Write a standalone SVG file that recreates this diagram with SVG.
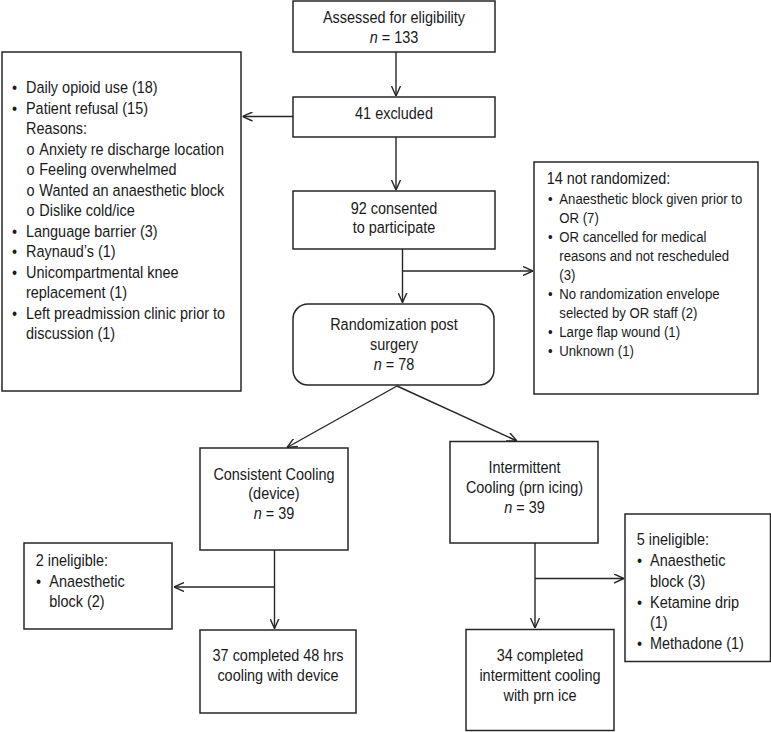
<svg xmlns="http://www.w3.org/2000/svg" width="771" height="732" viewBox="0 0 771 732">
<style>
.box{fill:#fff;stroke:#262626;stroke-width:1.5}
.ln{fill:none;stroke:#262626;stroke-width:1.4}
text{font-family:"Liberation Sans",Arial,sans-serif;font-size:17px;fill:#1a1a1a}
.c{text-anchor:middle}
.s{font-size:15.5px}
.i{font-style:italic}
</style>
<defs>
<marker id="arr" viewBox="0 0 10 10" refX="10" refY="5" markerWidth="10" markerHeight="10" markerUnits="userSpaceOnUse" orient="auto">
<path d="M0,0.5 L10,5 L0,9.5" fill="none" stroke="#262626" stroke-width="1.4"/>
</marker>
</defs>
<rect width="771" height="732" fill="#fff"/>
<g id="connectors">
<line class="ln" x1="396" y1="52" x2="396" y2="96" marker-end="url(#arr)"/>
<line class="ln" x1="293" y1="116.5" x2="242.5" y2="116.5" marker-end="url(#arr)"/>
<line class="ln" x1="396" y1="137" x2="396" y2="190" marker-end="url(#arr)"/>
<line class="ln" x1="402.5" y1="249" x2="402.5" y2="302.5" marker-end="url(#arr)"/>
<line class="ln" x1="402.5" y1="271" x2="533" y2="271" marker-end="url(#arr)"/>
<line class="ln" x1="397" y1="386" x2="287" y2="447.5" marker-end="url(#arr)"/>
<line class="ln" x1="397" y1="386" x2="517" y2="441" marker-end="url(#arr)"/>
<line class="ln" x1="274.5" y1="550" x2="274.5" y2="628.5" marker-end="url(#arr)"/>
<line class="ln" x1="274.5" y1="587" x2="174" y2="587" marker-end="url(#arr)"/>
<line class="ln" x1="535" y1="543" x2="535" y2="628" marker-end="url(#arr)"/>
<line class="ln" x1="535" y1="578.5" x2="624" y2="578.5" marker-end="url(#arr)"/>
</g>
<g id="assessed">
<rect class="box" x="293" y="1" width="202" height="51"/>
<g transform="scale(0.85 1)"><text class="c"><tspan x="463.53" y="23.5">Assessed for eligibility</tspan><tspan x="463.53" y="43"><tspan class="i">n</tspan> = 133</tspan></text></g>
</g>
<g id="excluded">
<rect class="box" x="293" y="97" width="202" height="40"/>
<g transform="scale(0.85 1)"><text class="c" x="463.53" y="119.5">41 excluded</text></g>
</g>
<g id="exclusion-reasons">
<rect class="box" x="2" y="52" width="239" height="339"/>
<g transform="scale(0.85 1)"><text>
<tspan x="14.12" y="93.5">•</tspan><tspan x="30.59" y="93.5">Daily opioid use (18)</tspan>
<tspan x="14.12" y="114">•</tspan><tspan x="30.59" y="114">Patient refusal (15)</tspan>
<tspan x="30.59" y="134.5">Reasons:</tspan>
<tspan x="31.18" y="155">o</tspan><tspan x="46.24" y="155">Anxiety re discharge location</tspan>
<tspan x="31.18" y="175.5">o</tspan><tspan x="46.24" y="175.5">Feeling overwhelmed</tspan>
<tspan x="31.18" y="196">o</tspan><tspan x="46.24" y="196">Wanted an anaesthetic block</tspan>
<tspan x="31.18" y="216.5">o</tspan><tspan x="46.24" y="216.5">Dislike cold/ice</tspan>
<tspan x="14.12" y="237">•</tspan><tspan x="30.59" y="237">Language barrier (3)</tspan>
<tspan x="14.12" y="257.5">•</tspan><tspan x="30.59" y="257.5">Raynaud’s (1)</tspan>
<tspan x="14.12" y="278">•</tspan><tspan x="30.59" y="278">Unicompartmental knee</tspan>
<tspan x="30.59" y="298.5">replacement (1)</tspan>
<tspan x="14.12" y="319">•</tspan><tspan x="30.59" y="319">Left preadmission clinic prior to</tspan>
<tspan x="30.59" y="339.5">discussion (1)</tspan>
</text></g>
</g>
<g id="consented">
<rect class="box" x="293" y="191" width="202" height="58"/>
<g transform="scale(0.85 1)"><text class="c"><tspan x="463.53" y="214">92 consented</tspan><tspan x="463.53" y="233">to participate</tspan></text></g>
</g>
<g id="not-randomized">
<rect class="box" x="534" y="162" width="224" height="232"/>
<g transform="scale(0.85 1)"><text x="643.18" y="184.5">14 not randomized:</text>
<text class="s">
<tspan x="644.7" y="203.6">•</tspan><tspan x="658" y="203.6">Anaesthetic block given prior to</tspan>
<tspan x="658" y="222.7">OR (7)</tspan>
<tspan x="644.7" y="241.8">•</tspan><tspan x="658" y="241.8">OR cancelled for medical</tspan>
<tspan x="658" y="260.9">reasons and not rescheduled</tspan>
<tspan x="658" y="280">(3)</tspan>
<tspan x="644.7" y="299.1">•</tspan><tspan x="658" y="299.1">No randomization envelope</tspan>
<tspan x="658" y="318.2">selected by OR staff (2)</tspan>
<tspan x="644.7" y="337.3">•</tspan><tspan x="658" y="337.3">Large flap wound (1)</tspan>
<tspan x="644.7" y="356.4">•</tspan><tspan x="658" y="356.4">Unknown (1)</tspan>
</text></g>
</g>
<g id="randomization">
<rect class="box" x="293" y="304" width="201" height="81" rx="15" ry="15"/>
<g transform="scale(0.85 1)"><text class="c"><tspan x="463.53" y="330">Randomization post</tspan><tspan x="463.53" y="350">surgery</tspan><tspan x="463.53" y="370.5"><tspan class="i">n</tspan> = 78</tspan></text></g>
</g>
<g id="consistent">
<rect class="box" x="200" y="448" width="148" height="102"/>
<g transform="scale(0.85 1)"><text class="c"><tspan x="322.35" y="480">Consistent Cooling</tspan><tspan x="322.35" y="499">(device)</tspan><tspan x="322.35" y="519.5"><tspan class="i">n</tspan> = 39</tspan></text></g>
</g>
<g id="intermittent">
<rect class="box" x="450" y="441.5" width="148" height="101.5"/>
<g transform="scale(0.85 1)"><text class="c"><tspan x="617.06" y="473.5">Intermittent</tspan><tspan x="617.06" y="493.5">Cooling (prn icing)</tspan><tspan x="617.06" y="513.5"><tspan class="i">n</tspan> = 39</tspan></text></g>
</g>
<g id="ineligible-2">
<rect class="box" x="24" y="543" width="148" height="86"/>
<g transform="scale(0.85 1)"><text><tspan x="42" y="566">2 ineligible:</tspan>
<tspan x="42.35" y="587">•</tspan><tspan x="58" y="587">Anaesthetic</tspan>
<tspan x="58" y="607.5">block (2)</tspan></text></g>
</g>
<g id="completed-device">
<rect class="box" x="200" y="630" width="156" height="83"/>
<g transform="scale(0.85 1)"><text class="c"><tspan x="327.06" y="661">37 completed 48 hrs</tspan><tspan x="327.06" y="681">cooling with device</tspan></text></g>
</g>
<g id="ineligible-5">
<rect class="box" x="625" y="514" width="145.5" height="147.5"/>
<g transform="scale(0.85 1)"><text><tspan x="749.06" y="545.5">5 ineligible:</tspan>
<tspan x="749.4" y="566.2">•</tspan><tspan x="764.71" y="566.2">Anaesthetic</tspan>
<tspan x="764.71" y="586.9">block (3)</tspan>
<tspan x="749.4" y="607.6">•</tspan><tspan x="764.71" y="607.6">Ketamine drip</tspan>
<tspan x="764.71" y="628.3">(1)</tspan>
<tspan x="749.4" y="649">•</tspan><tspan x="764.71" y="649">Methadone (1)</tspan></text></g>
</g>
<g id="completed-ice">
<rect class="box" x="466" y="629.5" width="148" height="101"/>
<g transform="scale(0.85 1)"><text class="c"><tspan x="635.29" y="661">34 completed</tspan><tspan x="635.29" y="681">intermittent cooling</tspan><tspan x="635.29" y="701">with prn ice</tspan></text></g>
</g>
</svg>
